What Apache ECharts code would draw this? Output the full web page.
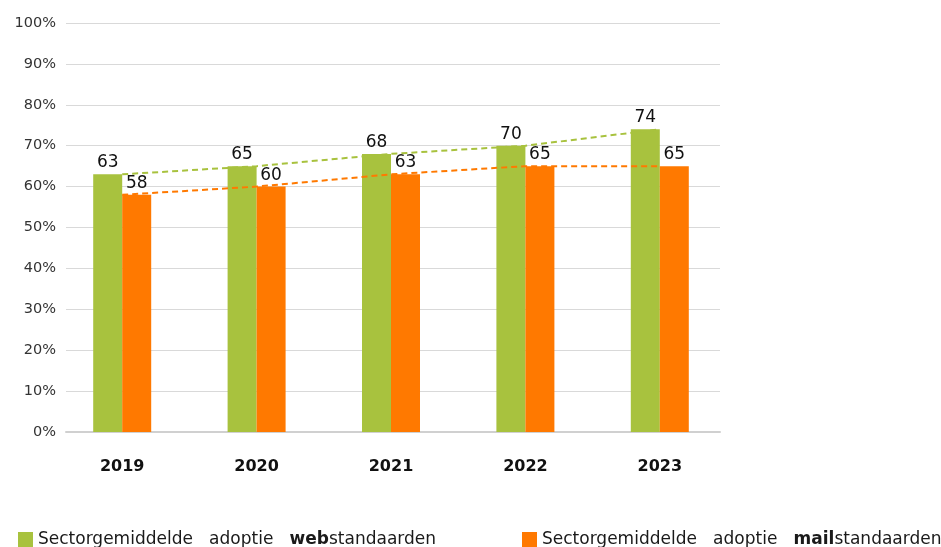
<!DOCTYPE html>
<html>
<head>
<meta charset="utf-8">
<script src="https://cdn.jsdelivr.net/npm/echarts@6/dist/echarts.min.js"></script>
<style>
  html, body { margin: 0; padding: 0; background: #fff; }
  #chart { width: 941px; height: 547px; }
</style>
</head>
<body>
<div id="chart"></div>
<script>
var years = ['2019', '2020', '2021', '2022', '2023'];
var webValues = [63, 65, 68, 70, 74];
var mailValues = [58, 60, 63, 65, 65];
var webName = 'Sectorgemiddelde adoptie web';
var mailName = 'Sectorgemiddelde adoptie mail';

var green = '#A8C23E';
var orange = '#FF7900';
var font = 'DejaVu Sans';

var chart = echarts.init(document.getElementById('chart'));

function legendStyle() {
	return {
		fontSize: 17, color: '#1a1a1a', fontFamily: font,
		rich: { b: { fontSize: 17, fontWeight: 'bold', color: '#1a1a1a', fontFamily: font } }
	};
}

var option = {
	animation: false,
	textStyle: { fontFamily: font },
	// grid 0 holds the bars, grid 1 draws gridlines / axis line / y labels
	grid: [
		{ left: 55, right: 214, top: 23, bottom: 115 },
		{ left: 66, right: 221, top: 23, bottom: 115 }
	],
	legend: [
		{
			data: [webName],
			left: 13,
			top: 526,
			icon: 'rect',
			itemWidth: 15,
			itemHeight: 15,
			itemGap: 5,
			formatter: function () { return 'Sectorgemiddelde   adoptie   {b|web}standaarden'; },
			textStyle: legendStyle()
		},
		{
			data: [mailName],
			left: 517,
			top: 526,
			icon: 'rect',
			itemWidth: 15,
			itemHeight: 15,
			formatter: function () { return 'Sectorgemiddelde   adoptie   {b|mail}standaarden'; },
			textStyle: legendStyle()
		}
	],
	xAxis: [
		{
			type: 'category',
			gridIndex: 0,
			data: years,
			axisLine: { show: false },
			axisTick: { show: false },
			axisLabel: { fontSize: 16, fontWeight: 'bold', color: '#111', margin: 27 }
		},
		{
			type: 'category',
			gridIndex: 1,
			data: years,
			axisLine: { lineStyle: { color: '#d0d0d0', width: 2 } },
			axisTick: { show: false },
			axisLabel: { show: false }
		}
	],
	yAxis: [
		{
			type: 'value',
			gridIndex: 0,
			min: 0,
			max: 100,
			interval: 10,
			show: false
		},
		{
			type: 'value',
			gridIndex: 1,
			min: 0,
			max: 100,
			interval: 10,
			axisLine: { show: false },
			axisTick: { show: false },
			splitLine: { lineStyle: { color: '#d9d9d9', width: 1 } },
			axisLabel: { formatter: '{value}%', fontSize: 14.5, color: '#333', margin: 10 }
		}
	],
	series: [
		{
			name: webName,
			type: 'bar',
			data: webValues,
			barWidth: 29,
			barGap: '0%',
			z: 3,
			itemStyle: { color: green },
			label: { show: true, position: 'top', distance: 3, fontSize: 17, fontWeight: 500, color: '#111' }
		},
		{
			name: mailName,
			type: 'bar',
			data: mailValues,
			barWidth: 29,
			z: 3,
			itemStyle: { color: orange },
			label: { show: true, position: 'top', distance: 3, fontSize: 17, fontWeight: 500, color: '#111' }
		},
		{
			name: 'web trend',
			type: 'line',
			data: webValues,
			symbol: 'none',
			z: 5,
			lineStyle: { color: green, width: 2, type: [6, 4] }
		},
		{
			name: 'mail trend',
			type: 'line',
			data: mailValues,
			symbol: 'none',
			z: 5,
			lineStyle: { color: orange, width: 2, type: [6, 4] }
		}
	]
};

chart.setOption(option);
</script>
</body>
</html>
